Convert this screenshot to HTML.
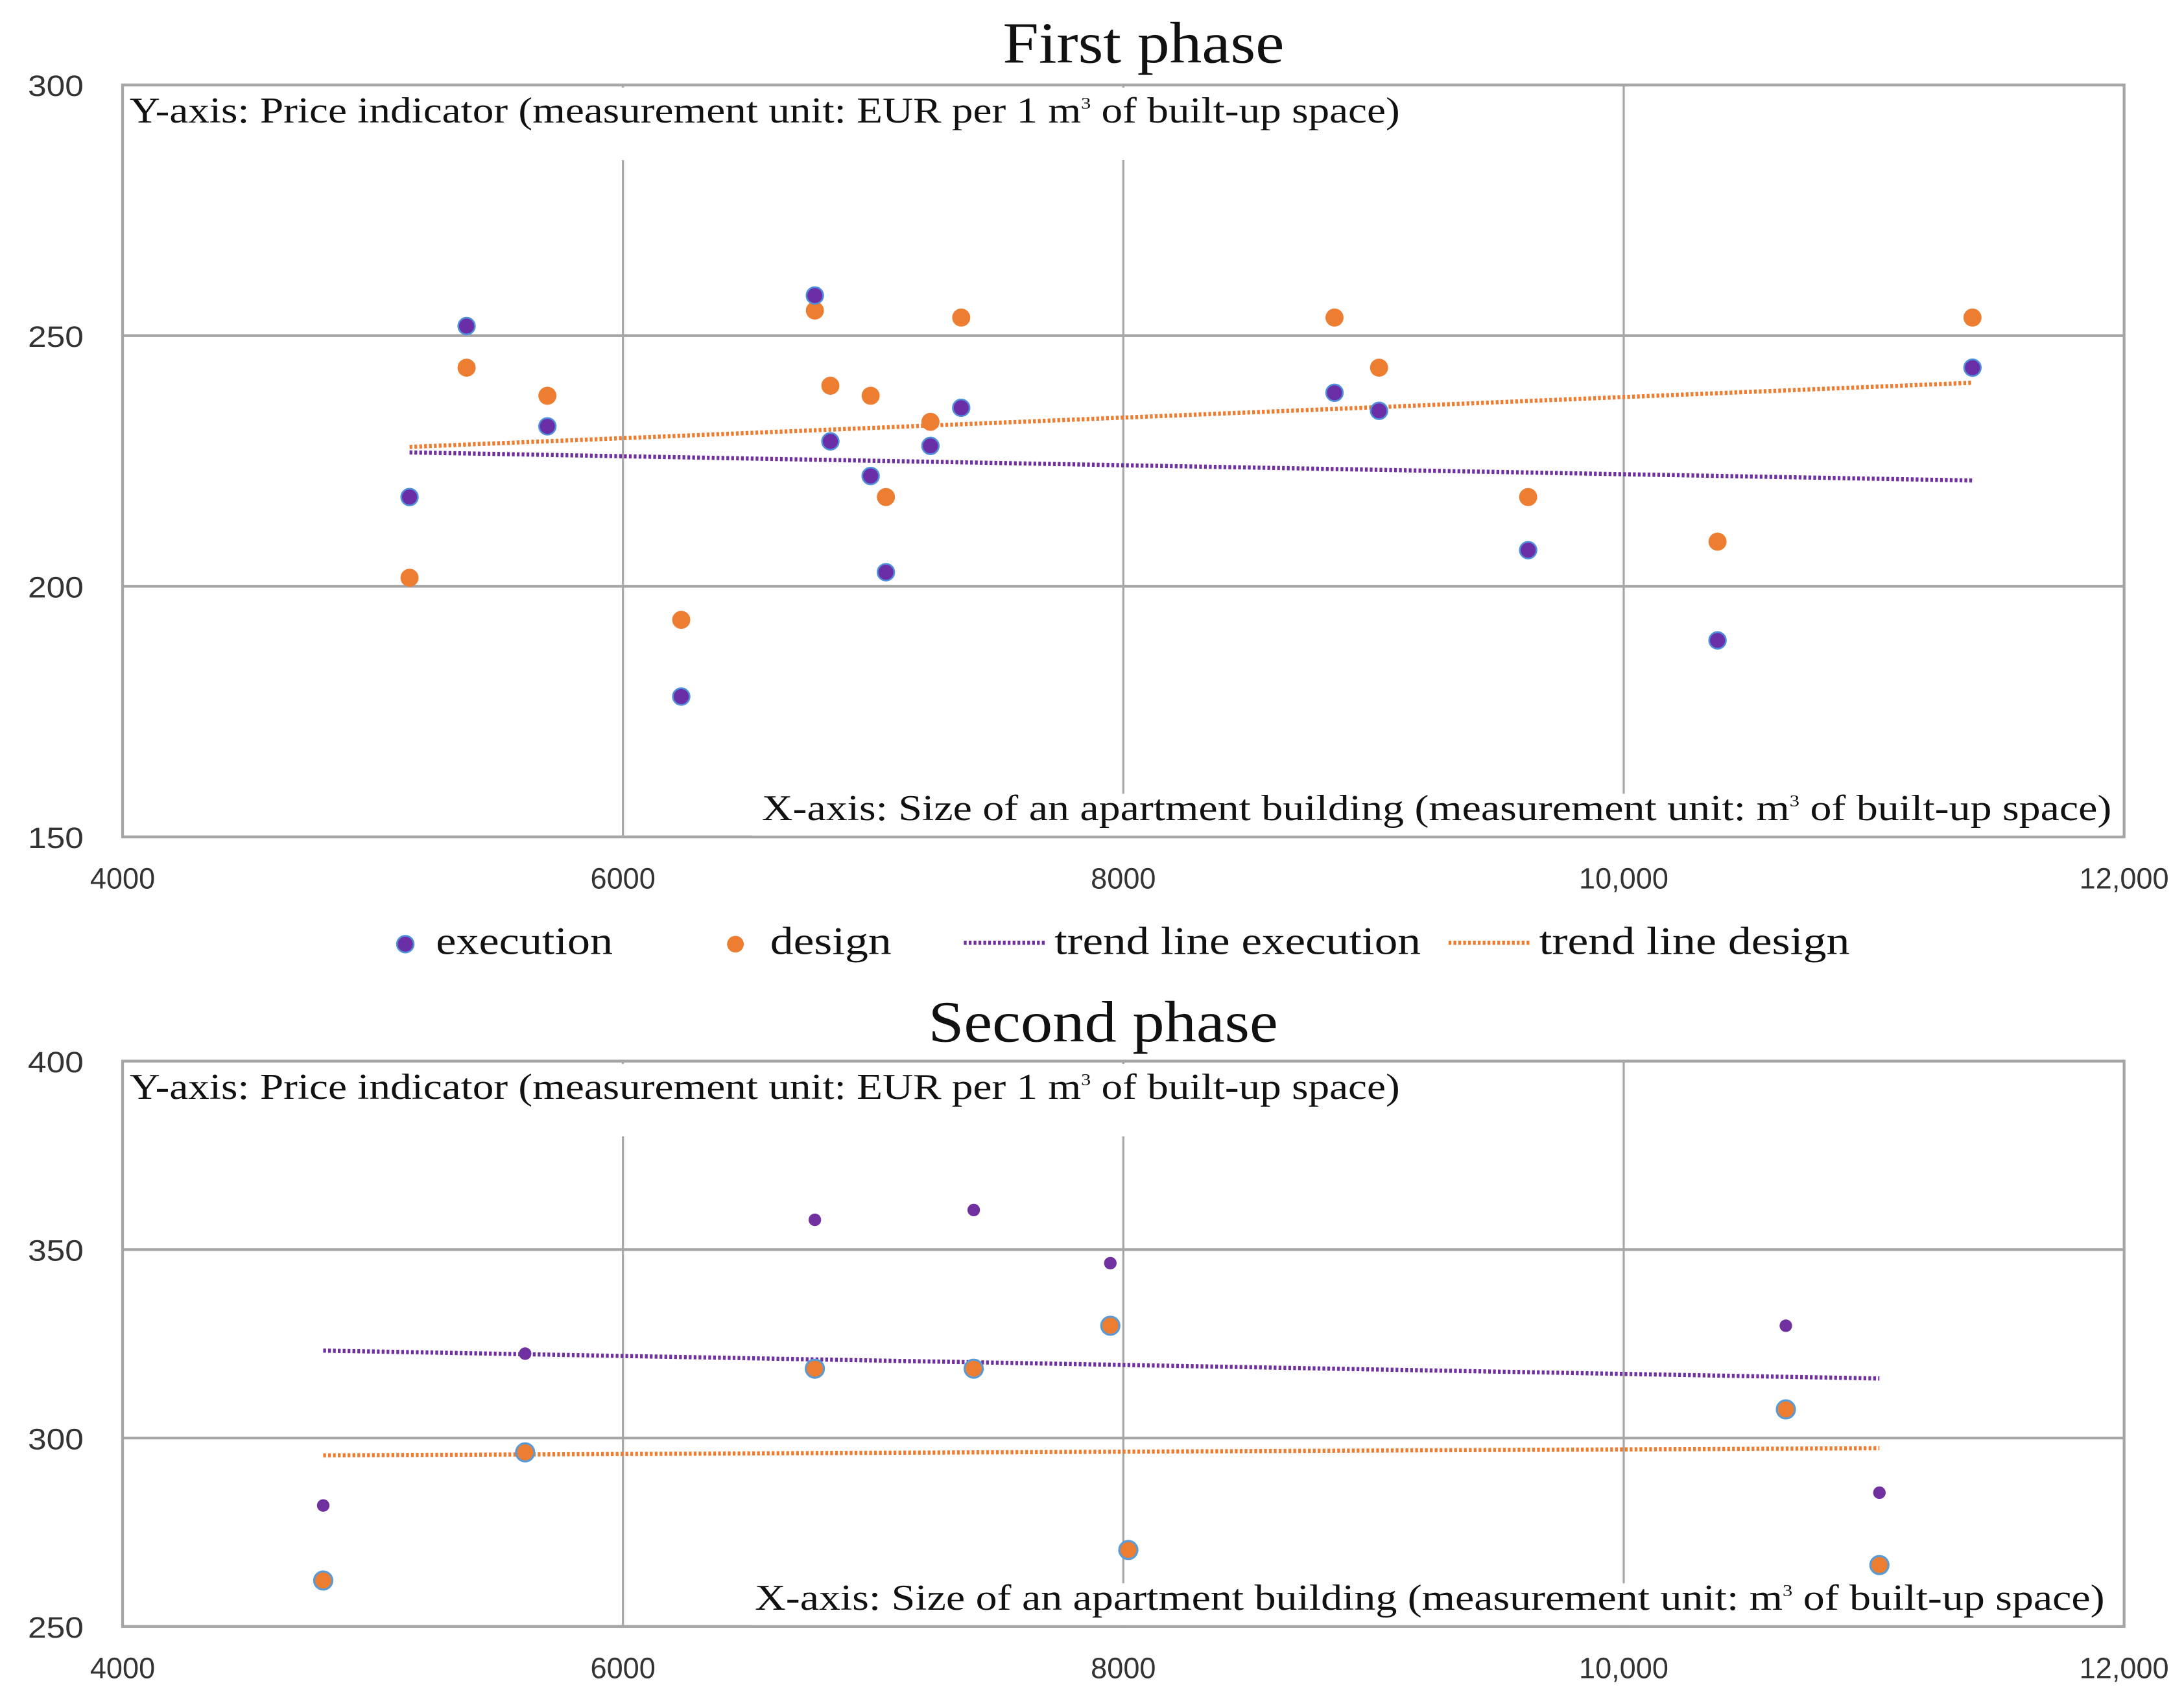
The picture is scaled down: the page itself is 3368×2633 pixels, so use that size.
<!DOCTYPE html>
<html><head><meta charset="utf-8"><style>
html,body{margin:0;padding:0;background:#fff}
svg{display:block}
text{font-family:"Liberation Serif",serif;fill:#111}
.tick{font-family:"Liberation Sans",sans-serif;font-size:21px;fill:#333}
</style></head><body>
<svg id="chart" width="3368" height="2633" viewBox="0 0 1568 1225.8" xmlns="http://www.w3.org/2000/svg"></svg>
<script>
// Phase 1 data
const p1ExecX=[5147,5375,5698,6233,6767,6829,6990,7051,7229,7352,8844,9022,9618,10375,11394];
const p1ExecY=[217.8,251.9,231.9,178,258,228.9,222,202.8,228,235.6,238.6,235,207.2,189.2,243.6];
const p1DesX=[5147,5375,5698,6233,6767,6829,6990,7051,7229,7352,8844,9022,9618,10375,11394];
const p1DesY=[201.7,243.6,238,193.3,255,240,238,217.8,232.8,253.6,253.6,243.6,217.8,208.9,253.6];
const p1TrendExecX=[5147,11394];
const p1TrendExecY=[226.7,221.1];
const p1TrendDesX=[5147,11394];
const p1TrendDesY=[227.8,240.6];
const p1YTicks=[150,200,250,300];
// Phase 2 data
const p2ExecX=[4802,5609,6767,7402,7948,10648,11022];
const p2ExecY=[282.1,322.4,357.9,360.5,346.4,329.8,285.5];
const p2DesX=[4802,5609,6767,7402,7948,8020,10648,11022];
const p2DesY=[262.2,296.2,318.4,318.4,329.8,270.3,307.6,266.3];
const p2TrendExecX=[4802,11022];
const p2TrendExecY=[323.2,315.8];
const p2TrendDesX=[4802,11022];
const p2TrendDesY=[295.4,297.3];
const p2YTicks=[250,300,350,400];
const xTicks=[4000,6000,8000,10000,12000];
const xTickLabels=["4000","6000","8000","10,000","12,000"];

const svg=document.getElementById('chart');
const NS='http://www.w3.org/2000/svg';
function mk(tag,attrs,parent){const e=document.createElementNS(NS,tag);for(const k in attrs)e.setAttribute(k,attrs[k]);(parent||svg).appendChild(e);return e;}

function panel(o){
  const g=mk('g',{});
  
  
  const L=88,R=1525,T=o.top,B=o.bottom;
  const xs=v=>L+(v-4000)/(12000-4000)*(R-L);
  const ys=v=>B-(v-o.ymin)/(o.ymax-o.ymin)*(B-T);
  o.yticks.forEach(t=>{
    const l=mk('line',{x1:L,x2:R,y1:ys(t),y2:ys(t),stroke:'#a6a6a6','stroke-width':2},g);
    
    
    const tx=mk('text',{x:60,y:ys(t)+8,'text-anchor':'end',class:'tick',textLength:40,lengthAdjust:'spacingAndGlyphs'},g);
    tx.textContent=t;
    
    
  });
  xTicks.forEach((t,i)=>{
    if(t>4000&&t<12000){
      const l=mk('line',{x1:xs(t),x2:xs(t),y1:T,y2:B,stroke:'#a6a6a6','stroke-width':1.5},g);
      
      
    }
    const tx=mk('text',{x:xs(t),y:B+37,'text-anchor':'middle',class:'tick'},g);
    tx.textContent=xTickLabels[i];
    
    
  });
  const fr=mk('rect',{x:L,y:T,width:R-L,height:B-T,fill:'none',stroke:'#a6a6a6','stroke-width':2},g);
  
  
  mk('rect',{x:L+2,y:T+2,width:918,height:52,fill:'#fff'},g);
  mk('rect',{x:540,y:B-31,width:R-542,height:30,fill:'#fff'},g);
  const yl=mk('text',{x:93,y:T+27,'font-size':26,textLength:912,lengthAdjust:'spacingAndGlyphs'},g);
  yl.innerHTML='Y-axis: Price indicator (measurement unit: EUR per 1 m<tspan font-size="12" dy="-10">3</tspan><tspan dy="10"> of built-up space)</tspan>';
  
  
  const xl=mk('text',{x:o.xlabRight-969,y:B-12,'font-size':26,textLength:969,lengthAdjust:'spacingAndGlyphs'},g);
  xl.innerHTML='X-axis: Size of an apartment building (measurement unit: m<tspan font-size="12" dy="-10">3</tspan><tspan dy="10"> of built-up space)</tspan>';
  
  
  const ti=mk('text',{x:o.titleX,y:o.titleY,'font-size':42,'text-anchor':'middle',textLength:o.titleW,lengthAdjust:'spacingAndGlyphs'},g);
  ti.textContent=o.title;
  
  
  const te=mk('line',{x1:xs(o.teX[0]),y1:ys(o.teY[0]),x2:xs(o.teX[1]),y2:ys(o.teY[1]),stroke:'#7030a0','stroke-width':3,'stroke-dasharray':'2 1.5'},g);
  
  
  const td=mk('line',{x1:xs(o.tdX[0]),y1:ys(o.tdY[0]),x2:xs(o.tdX[1]),y2:ys(o.tdY[1]),stroke:'#ed7d31','stroke-width':3,'stroke-dasharray':'2 1.5'},g);
  
  
  const drawPts=(X,Y,style,name)=>{X.forEach((x,i)=>{
    const c=mk('circle',Object.assign({cx:xs(x),cy:ys(Y[i])},style),g);
    
    
  });};
  if(o.execFirst){
    drawPts(o.dX,o.dY,{r:6.5,fill:'#ed7d31'},'design-point');
    drawPts(o.eX,o.eY,{r:6,fill:'#6a2fa6',stroke:'#4f8fdc','stroke-width':1.2},'execution-point');
  } else {
    drawPts(o.eX,o.eY,{r:4.5,fill:'#7030a0'},'execution-point');
    drawPts(o.dX,o.dY,{r:6.5,fill:'#ed7d31',stroke:'#5b9bd5','stroke-width':1.5},'design-point');
  }
}
panel({name:'first-phase-chart',top:61,bottom:601,ymin:150,ymax:300,yticks:p1YTicks,title:'First phase',titleX:821,titleY:45,titleW:202,xlabRight:1516,
 eX:p1ExecX,eY:p1ExecY,dX:p1DesX,dY:p1DesY,teX:p1TrendExecX,teY:p1TrendExecY,tdX:p1TrendDesX,tdY:p1TrendDesY,execFirst:true});
panel({name:'second-phase-chart',top:762,bottom:1168,ymin:250,ymax:400,yticks:p2YTicks,title:'Second phase',titleX:792,titleY:748,titleW:251,xlabRight:1511,
 eX:p2ExecX,eY:p2ExecY,dX:p2DesX,dY:p2DesY,teX:p2TrendExecX,teY:p2TrendExecY,tdX:p2TrendDesX,tdY:p2TrendDesY,execFirst:false});

const lg=mk('g',{});


const items=[
 {t:'execution',kind:'dot',c:'#6a2fa6',mx:291,tx:313,w:127},
 {t:'design',kind:'dot',c:'#ed7d31',mx:528,tx:553,w:87},
 {t:'trend line execution',kind:'line',c:'#7030a0',mx:692,tx:757,w:263},
 {t:'trend line design',kind:'line',c:'#ed7d31',mx:1040,tx:1105,w:223}];
items.forEach(it=>{
  const e=mk('g',{},lg);
  
  
  if(it.kind==='dot') mk('circle',{cx:it.mx,cy:678,r:6,fill:it.c,stroke:it.c==='#6a2fa6'?'#4f8fdc':'none','stroke-width':1.2},e);
  else mk('line',{x1:it.mx,x2:it.mx+58,y1:677,y2:677,stroke:it.c,'stroke-width':3,'stroke-dasharray':'2 1.5'},e);
  const tx=mk('text',{x:it.tx,y:685,'font-size':28,textLength:it.w,lengthAdjust:'spacingAndGlyphs'},e);
  tx.textContent=it.t;
});
</script>
</body></html>
